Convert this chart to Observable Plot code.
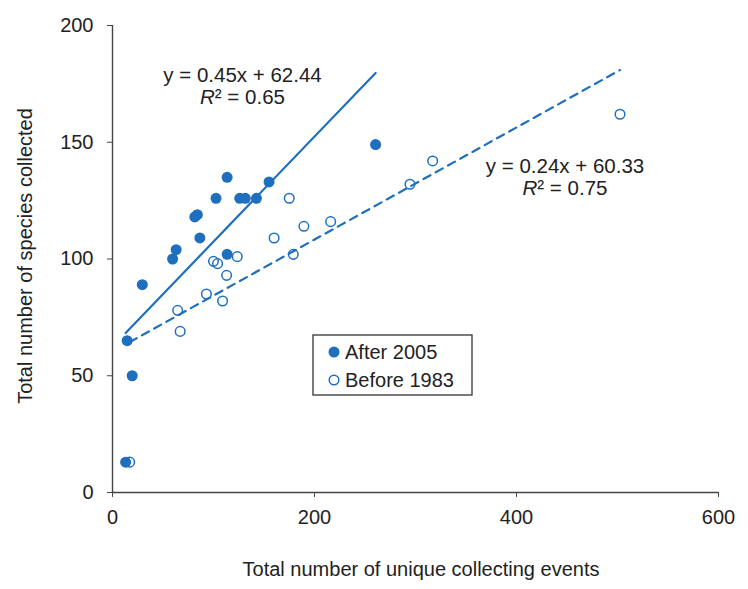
<!DOCTYPE html>
<html><head><meta charset="utf-8">
<script src="https://cdn.jsdelivr.net/npm/d3@7"></script>
<script src="https://cdn.jsdelivr.net/npm/@observablehq/plot@0.6"></script>
<style>body{margin:0;background:#fff} svg{display:block}</style>
</head><body><div id="chart"></div>
<script>
// Series: After 2005 (filled)
const afterX = [13, 14.5, 19.5, 29.5, 59.5, 63, 81.5, 84, 86.5, 102.5, 113.5, 113.5, 126, 131.5, 142.5, 155, 260.5];
const afterY = [13, 65, 50, 89, 100, 104, 118, 119, 109, 126, 135, 102, 126, 126, 126, 133, 149];
// Series: Before 1983 (open)
const beforeX = [17, 64.5, 67, 93, 100, 104, 109, 113, 123.5, 160, 175, 179, 189.5, 216, 294.5, 317, 502.5];
const beforeY = [13, 78, 69, 85, 99, 98, 82, 93, 101, 109, 126, 102, 114, 116, 132, 142, 162];
const seriesNames = ["After 2005", "Before 1983"];
const fitSlope = [0.45, 0.24];
const fitIntercept = [62.44, 60.33];
const fitR2 = ["0.65", "0.75"];
const xTicks = [0, 200, 400, 600];
const yTicks = [0, 50, 100, 150, 200];
const xTitle = "Total number of unique collecting events";
const yTitle = "Total number of species collected";

const color = "#1f6fbf";
const ink = "#222";
const axisInk = "#444";

const after = afterX.map((x, i) => ({x, y: afterY[i]}));
const before = beforeX.map((x, i) => ({x, y: beforeY[i]}));
const fit = (xs, k) => d3.extent(xs).map(x => ({x, y: fitSlope[k] * x + fitIntercept[k]}));

const plot = Plot.plot({
  width: 748, height: 589,
  marginLeft: 112, marginRight: 30, marginTop: 25, marginBottom: 97,
  x: {domain: [0, 600]},
  y: {domain: [0, 200]},
  style: {fontFamily: "'Liberation Sans', Arial, sans-serif", fontSize: "20px", color: ink, background: "white"},
  marks: [
    Plot.axisX({ticks: xTicks, tickSize: 5, tickPadding: 12, label: null, stroke: axisInk, fill: ink}),
    Plot.axisY({ticks: yTicks, tickSize: 5, tickPadding: 14, label: null, stroke: axisInk, fill: ink}),
    Plot.ruleX([0], {stroke: axisInk, strokeWidth: 1.4}),
    Plot.ruleY([0], {stroke: axisInk, strokeWidth: 1.4}),
    Plot.line(fit(afterX, 0), {x: "x", y: "y", stroke: color, strokeWidth: 2.2}),
    Plot.line(fit(beforeX, 1), {x: "x", y: "y", stroke: color, strokeWidth: 2.2, strokeDasharray: "8,6"}),
    Plot.dot(after, {x: "x", y: "y", r: 5.5, fill: color, stroke: "none"}),
    Plot.dot(before, {x: "x", y: "y", r: 4.8, fill: "none", stroke: color, strokeWidth: 1.5})
  ]
});
document.getElementById("chart").appendChild(plot);

const svg = d3.select(plot);
const sx = plot.scale("x"), sy = plot.scale("y");
const ann = svg.append("g").attr("fill", ink).attr("font-size", 20.5);

// regression annotations (positions in data units)
const eqPos = [{x: 129.2, y: 175.6, rx: 129.2, ry: 166.3}, {x: 448.5, y: 136.7, rx: 448.5, ry: 127.2}];
eqPos.forEach((p, k) => {
  ann.append("text").attr("x", sx.apply(p.x)).attr("y", sy.apply(p.y)).attr("text-anchor", "middle")
    .text(`y = ${fitSlope[k]}x + ${fitIntercept[k]}`);
  const t = ann.append("text").attr("x", sx.apply(p.rx)).attr("y", sy.apply(p.ry)).attr("text-anchor", "middle");
  t.append("tspan").attr("font-style", "italic").text("R");
  t.append("tspan").text(`² = ${fitR2[k]}`);
});

// axis titles
ann.append("text").attr("x", 421).attr("y", 576).attr("text-anchor", "middle").attr("font-size", 20).text(xTitle);
ann.append("text").attr("transform", "translate(32,256) rotate(-90)").attr("text-anchor", "middle").attr("font-size", 20).text(yTitle);

// legend
const lg = svg.append("g");
lg.append("rect").attr("x", 313).attr("y", 335).attr("width", 159).attr("height", 60)
  .attr("fill", "white").attr("stroke", "#333").attr("stroke-width", 1.3);
lg.append("circle").attr("cx", 334).attr("cy", 352).attr("r", 5.5).attr("fill", color);
lg.append("circle").attr("cx", 334).attr("cy", 380).attr("r", 4.8).attr("fill", "none").attr("stroke", color).attr("stroke-width", 1.5);
lg.append("text").attr("x", 345).attr("y", 359).attr("text-anchor", "start").attr("fill", ink).attr("font-size", 20).text(seriesNames[0]);
lg.append("text").attr("x", 345).attr("y", 387).attr("text-anchor", "start").attr("fill", ink).attr("font-size", 20).text(seriesNames[1]);
</script></body></html>
